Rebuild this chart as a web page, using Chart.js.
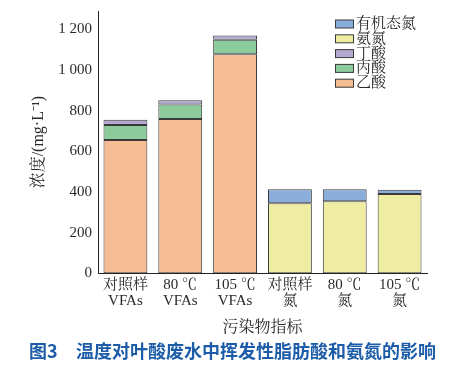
<!DOCTYPE html>
<html>
<head>
<meta charset="utf-8">
<script src="https://cdn.jsdelivr.net/npm/chart.js@4/dist/chart.umd.min.js"></script>
<style>
  html, body { margin: 0; padding: 0; background: #fff; }
  #wrap { width: 456px; height: 369px; }
</style>
</head>
<body>
<div id="wrap"><canvas id="barChart" width="456" height="369"></canvas></div>
<script>
// categories (two-line labels)
const categories = [
  ['对照样', 'VFAs'], ['80 ℃', 'VFAs'], ['105 ℃', 'VFAs'],
  ['对照样', '氮'], ['80 ℃', '氮'], ['105 ℃', '氮']
];
// series values, mg/L (null = not part of that bar)
const acetic    = [655, 759, 1077, null, null, null];
const propionic = [74, 71, 72, null, null, null];
const butyric   = [26, 21, 20, null, null, null];
const ammonia   = [null, null, null, 344, 354, 390];
const organicN  = [null, null, null, 69, 59, 21];
const yTicks = [0, 200, 400, 600, 800, 1000, 1200];

const figNo = '图3';
const caption = '温度对叶酸废水中挥发性脂肪酸和氨氮的影响';

const serif = "'Liberation Serif', 'Noto Serif CJK SC', 'Noto Sans CJK SC', serif";
const edge = '#3a3a3a';

// legend drawn top-right inside the plot (reverse of stacking order), plus the figure caption
const extras = {
  id: 'extras',
  afterDraw(chart) {
    const c = chart.ctx;
    const sets = chart.data.datasets.slice().reverse();
    c.save();
    c.font = '15px ' + serif;
    c.textBaseline = 'middle';
    sets.forEach((ds, i) => {
      const y = 24 + i * 14.8;
      c.fillStyle = ds.backgroundColor;
      c.fillRect(335.5, y - 4, 18, 8);
      c.strokeStyle = edge;
      c.lineWidth = 1;
      c.strokeRect(335.5, y - 4, 18, 8);
      c.fillStyle = '#2a2a2a';
      c.fillText(ds.label, 356, y);
    });

    // caption
    c.font = "bold 18px 'Noto Sans CJK SC', sans-serif";
    c.fillStyle = '#1c5ca8';
    c.fillText(figNo, 29, 351);
    c.fillText(caption, 76, 351);
    c.restore();
  }
};

function seg(label, data, color) {
  return { label, data, backgroundColor: color, borderColor: edge, borderWidth: 1, borderSkipped: false };
}

new Chart(document.getElementById('barChart'), {
  type: 'bar',
  data: {
    labels: categories,
    datasets: [
      seg('乙酸', acetic, '#f5bd93'),
      seg('丙酸', propionic, '#8ccb9b'),
      seg('丁酸', butyric, '#b5a8d0'),
      seg('氨氮', ammonia, '#eeeda2'),
      seg('有机态氮', organicN, '#8aadda')
    ]
  },
  options: {
    responsive: false,
    animation: false,
    layout: { padding: { top: 10, right: 29, left: 0, bottom: 31 } },
    datasets: { bar: { barPercentage: 0.8, categoryPercentage: 1.0 } },
    scales: {
      x: {
        stacked: true,
        grid: { display: false, drawTicks: false },
        border: { color: '#222', width: 1 },
        ticks: { color: '#2a2a2a', font: { family: serif, size: 15, lineHeight: 1.05 }, padding: 4, maxRotation: 0 },
        title: { display: true, text: '污染物指标', color: '#2a2a2a', font: { family: serif, size: 16 }, padding: { top: 5, bottom: 1 } }
      },
      y: {
        stacked: true,
        min: 0,
        max: 1290,
        afterBuildTicks: scale => { scale.ticks = yTicks.map(v => ({ value: v })); },
        afterFit: scale => { scale.width = 98; },
        grid: { display: false, drawTicks: true, tickLength: 4, tickColor: '#222' },
        border: { color: '#222', width: 1 },
        ticks: {
          color: '#2a2a2a',
          font: { family: serif, size: 15 },
          padding: 2,
          callback: v => v >= 1000 ? Math.floor(v / 1000) + ' ' + String(v % 1000).padStart(3, '0') : String(v)
        },
        title: { display: true, text: '浓度/(mg·L⁻¹)', color: '#2a2a2a', font: { family: serif, size: 16 }, padding: { top: 29, bottom: 0 } }
      }
    },
    plugins: {
      legend: { display: false },
      tooltip: { enabled: false }
    }
  },
  plugins: [extras]
});
</script>
</body>
</html>
